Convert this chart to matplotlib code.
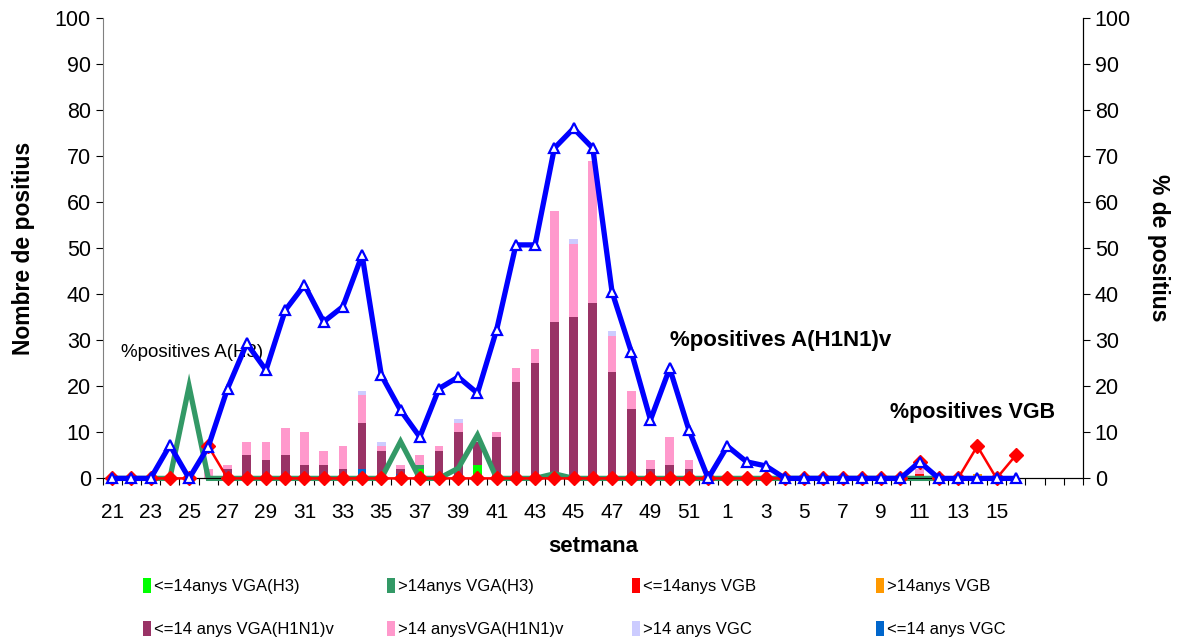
import matplotlib
matplotlib.use("Agg")
import matplotlib.pyplot as plt
import numpy as np

plt.rcParams['font.family'] = ['Liberation Sans', 'DejaVu Sans']

# weeks 21..52 then 1..19
weeks = list(range(21, 53)) + list(range(1, 20))

# stacked bars (counts), one value per week
vgc_le14 = [0, 0, 0, 0, 0, 0, 0, 0, 0, 0,
            0, 0, 0, 2, 0, 1, 1, 0, 1, 0,
            0, 0, 0, 0, 0, 0, 0, 0, 0, 0,
            0, 0, 0, 0, 0, 0, 0, 0, 0, 0,
            0, 0, 0, 0, 0, 0, 0, 0, 0, 0, 0]
h3_le14 = [0, 0, 0, 0, 0, 0, 0, 0, 0, 0,
           0, 0, 0, 0, 0, 0, 1, 0, 0, 3,
           0, 0, 0, 0, 0, 0, 0, 0, 0, 0,
           0, 0, 0, 0, 0, 0, 0, 0, 0, 0,
           0, 0, 0, 0, 0, 0, 0, 0, 0, 0, 0]
h3_gt14 = [0, 0, 0, 0, 0, 0, 0, 0, 0, 0,
           0, 0, 0, 0, 0, 0, 1, 0, 0, 0,
           0, 0, 0, 0, 0, 0, 0, 0, 0, 0,
           0, 0, 0, 0, 0, 0, 0, 0, 0, 0,
           0, 0, 0, 0, 0, 0, 0, 0, 0, 0, 0]
vgb_le14 = [0, 0, 0, 0, 0, 0, 0, 0, 0, 0,
            0, 0, 0, 0, 0, 0, 0, 0, 0, 0,
            0, 0, 0, 0, 0, 0, 0, 0, 0, 0,
            0, 0, 0, 0, 0, 0, 0, 0, 0, 0,
            0, 0, 1, 0, 0, 0, 0, 0, 0, 0, 0]
vgb_gt14 = [0, 0, 0, 0, 0, 0, 0, 0, 0, 0,
            0, 0, 0, 0, 0, 0, 0, 0, 0, 0,
            0, 0, 0, 0, 0, 0, 0, 0, 0, 0,
            0, 0, 0, 0, 0, 0, 0, 0, 0, 0,
            0, 0, 0, 0, 0, 1, 0, 0, 0, 0, 0]
h1_le14 = [0, 0, 0, 0, 0, 0, 2, 5, 4, 5,
           3, 3, 2, 10, 6, 1, 0, 6, 9, 5,
           9, 21, 25, 34, 35, 38, 23, 15, 2, 3,
           2, 0, 0, 0, 0, 0, 0, 0, 0, 0,
           0, 0, 0, 0, 0, 0, 0, 0, 0, 0, 0]
h1_gt14 = [0, 0, 0, 0, 0, 2, 1, 3, 4, 6,
           7, 3, 5, 6, 1, 1, 2, 1, 2, 0,
           1, 3, 3, 24, 16, 31, 8, 4, 2, 6,
           2, 0, 0, 0, 0, 0, 0, 0, 0, 0,
           0, 0, 1, 0, 0, 0, 0, 0, 0, 0, 0]
vgc_gt14 = [0, 0, 0, 0, 0, 0, 0, 0, 0, 0,
            0, 0, 0, 1, 1, 0, 0, 0, 1, 0,
            0, 0, 0, 0, 1, 0, 1, 0, 0, 0,
            0, 0, 0, 0, 0, 0, 0, 0, 0, 0,
            0, 0, 0, 0, 0, 0, 0, 0, 0, 0, 0]

# percentage lines (right axis)
pct_h1n1 = [0, 0, 0, 7.2, 0, 6.9, 19.5, 29.3, 23.5, 36.5,
            42, 34, 37.3, 48.5, 22.4, 14.8, 9, 19.5, 22, 18.5,
            32.3, 50.7, 50.7, 71.7, 76, 71.7, 40.5, 27.5, 12.7, 23.9,
            10.5, 0, 7, 3.6, 2.7, 0, 0, 0, 0, 0,
            0, 0, 3.6, 0, 0, 0, 0, 0]
pct_h3 = [0, 0, 0, 0, 20, 0, 0, 0, 0, 0,
          0, 0, 0, 0, 0, 8, 0, 0, 2.2, 9.4,
          0, 0, 0, 1, 0, 0, 0, 0, 0, 0,
          0, 0, 0, 0, 0, 0, 0, 0, 0, 0,
          0, 0, 0, 0]
pct_vgb = [0, 0, 0, 0, 0, 7, 0, 0, 0, 0,
           0, 0, 0, 0, 0, 0, 0, 0, 0, 0,
           0, 0, 0, 0, 0, 0, 0, 0, 0, 0,
           0, 0, 0, 0, 0, 0, 0, 0, 0, 0,
           0, 0, 3.5, 0, 0, 7, 0, 5]

bar_series = [
    (vgc_le14, '<=14 anys VGC', '#0066CC'),
    (h3_le14, '<=14anys VGA(H3)', '#00FF00'),
    (h3_gt14, '>14anys VGA(H3)', '#339966'),
    (vgb_le14, '<=14anys VGB', '#FF0000'),
    (vgb_gt14, '>14anys VGB', '#FF9900'),
    (h1_le14, '<=14 anys VGA(H1N1)v', '#993366'),
    (h1_gt14, '>14 anysVGA(H1N1)v', '#FF99CC'),
    (vgc_gt14, '>14 anys VGC', '#CCCCFF'),
]

x = np.arange(len(weeks))

fig = plt.figure(figsize=(11.79, 6.37), dpi=100)
ax = fig.add_axes([0.087, 0.249, 0.8316, 0.723])

bottom = np.zeros(len(weeks))
handles = {}
for vals, lab, col in bar_series:
    vals = np.array(vals, dtype=float)
    b = ax.bar(x, vals, width=0.45, bottom=bottom, color=col, label=lab, linewidth=0)
    handles[lab] = b
    bottom += vals

ax.set_xlim(-0.5, len(weeks) - 0.5)
ax.set_ylim(0, 100)
ax.set_yticks(range(0, 101, 10))
ax.tick_params(axis='y', labelsize=15.5, length=5, direction='out')
ax.set_ylabel('Nombre de positius', fontsize=16.5, fontweight='bold', labelpad=14)

# category boundary ticks, labels on every other week
ax.set_xticks(np.arange(-0.5, len(weeks), 1))
ax.set_xticklabels([])
ax.tick_params(axis='x', which='major', length=5, direction='out')
lab_pos = x[::2][:24]
ax.set_xticks(lab_pos, minor=True)
ax.set_xticklabels([str(weeks[i]) for i in lab_pos], minor=True, fontsize=15)
ax.tick_params(axis='x', which='minor', length=0, pad=18)
ax.set_xlabel('setmana', fontsize=16, fontweight='bold', labelpad=10)
ax.spines['top'].set_visible(False)
ax.spines['left'].set_color('#808080')

ax2 = ax.twinx()
ax2.set_ylim(0, 100)
ax2.set_yticks(range(0, 101, 10))
ax2.tick_params(axis='y', labelsize=15.5, length=5, direction='out')
ax2.set_ylabel('% de positius', fontsize=16.5, fontweight='bold', rotation=270, labelpad=28)
ax2.spines['top'].set_visible(False)
ax2.spines['left'].set_visible(False)

ax2.plot(x[:len(pct_h3)], pct_h3, color='#339966', linewidth=3.8, solid_joinstyle='miter',
         zorder=2, clip_on=False)
ax2.plot(x[:len(pct_vgb)], pct_vgb, color='#FF0000', linewidth=1.8, marker='D', markersize=7,
         zorder=3, clip_on=False)
ax2.plot(x[:len(pct_h1n1)], pct_h1n1, color='#0000FF', linewidth=3.8, marker='^', markersize=6.5,
         markerfacecolor='white', markeredgecolor='#0000FF', markeredgewidth=1.6, zorder=4,
         clip_on=False)

ax2.text(0.45, 27.4, '%positives A(H3)', fontsize=13.5, va='center', ha='left')
ax2.text(29.0, 30, '%positives A(H1N1)v', fontsize=16, fontweight='bold', va='center', ha='left')
ax2.text(40.45, 14.4, '%positives VGB', fontsize=15.5, fontweight='bold', va='center', ha='left')

# legend: four columns, two rows
columns = [['<=14anys VGA(H3)', '<=14 anys VGA(H1N1)v'],
           ['>14anys VGA(H3)', '>14 anysVGA(H1N1)v'],
           ['<=14anys VGB', '>14 anys VGC'],
           ['>14anys VGB', '<=14 anys VGC']]
col_x = [143, 387, 632, 876]
for cx, labs in zip(col_x, columns):
    fig.legend([handles[k] for k in labs], labs, loc='upper left',
               bbox_to_anchor=(cx / 1179, 1 - 578 / 637), frameon=False, fontsize=12,
               handlelength=0.45, handleheight=1.0, handletextpad=0.2, labelspacing=1.6,
               borderpad=0, borderaxespad=0)

fig.savefig('out.png', dpi=100)
